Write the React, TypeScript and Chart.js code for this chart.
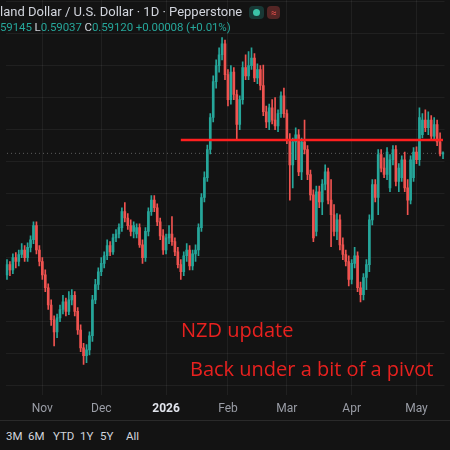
import React, { useEffect, useRef } from 'react';
import { Chart, registerables } from 'chart.js';

Chart.register(...registerables);

// ---- categories ----
const FIRST_DAY = '2025-10-16';
const LAST_DAY = '2026-05-14';
const MARKET_HOLIDAYS = ['2025-12-25', '2026-01-01'];
const MONTH_NAMES = ['Jan', 'Feb', 'Mar', 'Apr', 'May', 'Jun', 'Jul', 'Aug', 'Sep', 'Oct', 'Nov', 'Dec'];
const YEAR_TICK = '2026';

// ---- series (NZD/USD daily OHLC) ----
const OPEN = [
  0.5722, 0.5738, 0.5730, 0.5749, 0.5743, 0.5754, 0.5761, 0.5749, 0.5765, 0.5777,
  0.5799, 0.5761, 0.5743, 0.5722, 0.5702, 0.5675, 0.5652, 0.5633, 0.5655, 0.5668,
  0.5680, 0.5665, 0.5683, 0.5690, 0.5665, 0.5636, 0.5608, 0.5596, 0.5605, 0.5627,
  0.5683, 0.5707, 0.5727, 0.5740, 0.5752, 0.5768, 0.5758, 0.5780, 0.5786, 0.5796,
  0.5821, 0.5811, 0.5799, 0.5790, 0.5786, 0.5796, 0.5769, 0.5749, 0.5790, 0.5821,
  0.5839, 0.5827, 0.5805, 0.5783, 0.5761, 0.5780, 0.5786, 0.5774, 0.5758, 0.5738,
  0.5727, 0.5752, 0.5761, 0.5736, 0.5755, 0.5761, 0.5796, 0.5843, 0.5874, 0.5918,
  0.5968, 0.6024, 0.6049, 0.6066, 0.6083, 0.6035, 0.5996, 0.6039, 0.6004, 0.5957,
  0.5996, 0.6046, 0.6033, 0.6049, 0.6061, 0.6030, 0.6043, 0.6018, 0.5977, 0.5961,
  0.5983, 0.5964, 0.5955, 0.5974, 0.6002, 0.5974, 0.5933, 0.5894, 0.5930, 0.5941,
  0.5883, 0.5930, 0.5918, 0.5879, 0.5847, 0.5790, 0.5852, 0.5836, 0.5864, 0.5883,
  0.5839, 0.5816, 0.5790, 0.5808, 0.5769, 0.5754, 0.5743, 0.5715, 0.5740, 0.5752,
  0.5702, 0.5691, 0.5718, 0.5738, 0.5808, 0.5863, 0.5843, 0.5910, 0.5889, 0.5879,
  0.5858, 0.5902, 0.5918, 0.5868, 0.5874, 0.5902, 0.5858, 0.5839, 0.5874, 0.5914,
  0.5902, 0.5941, 0.5964, 0.5952, 0.5964, 0.5939, 0.5957, 0.5930, 0.59112,
];
const HIGH = [
  0.5746, 0.5743, 0.5755, 0.5757, 0.5761, 0.5771, 0.5768, 0.5772, 0.5783, 0.5805,
  0.5805, 0.5768, 0.5749, 0.5730, 0.5708, 0.5683, 0.5658, 0.5661, 0.5675, 0.5690,
  0.5686, 0.5696, 0.5699, 0.5696, 0.5671, 0.5644, 0.5615, 0.5613, 0.5633, 0.5690,
  0.5715, 0.5733, 0.5749, 0.5758, 0.5777, 0.5774, 0.5786, 0.5793, 0.5802, 0.5827,
  0.5835, 0.5818, 0.5808, 0.5805, 0.5802, 0.5802, 0.5777, 0.5796, 0.5827, 0.5846,
  0.5846, 0.5833, 0.5811, 0.5793, 0.5786, 0.5799, 0.5813, 0.5780, 0.5765, 0.5746,
  0.5758, 0.5771, 0.5768, 0.5761, 0.5769, 0.5802, 0.5849, 0.5883, 0.5925, 0.5974,
  0.6033, 0.6058, 0.6077, 0.6093, 0.6089, 0.6043, 0.6049, 0.6046, 0.6011, 0.6002,
  0.6055, 0.6066, 0.6071, 0.6077, 0.6068, 0.6052, 0.6049, 0.6050, 0.5986, 0.5989,
  0.5996, 0.5999, 0.5980, 0.6008, 0.6014, 0.5980, 0.5943, 0.5936, 0.5952, 0.5949,
  0.5936, 0.5964, 0.5924, 0.5886, 0.5855, 0.5861, 0.5861, 0.5871, 0.5894, 0.5889,
  0.5871, 0.5832, 0.5818, 0.5816, 0.5780, 0.5761, 0.5752, 0.5746, 0.5765, 0.5758,
  0.5711, 0.5724, 0.5746, 0.5816, 0.5871, 0.5871, 0.5918, 0.5918, 0.5905, 0.5921,
  0.5910, 0.5924, 0.5924, 0.5896, 0.5908, 0.5914, 0.5871, 0.5908, 0.5921, 0.5922,
  0.5983, 0.5974, 0.5980, 0.5977, 0.5971, 0.5968, 0.5964, 0.5944, 0.59145,
];
const LOW = [
  0.5715, 0.5721, 0.5724, 0.5733, 0.5736, 0.5749, 0.5743, 0.5743, 0.5758, 0.5771,
  0.5755, 0.5736, 0.5715, 0.5696, 0.5668, 0.5643, 0.5611, 0.5624, 0.5649, 0.5661,
  0.5658, 0.5660, 0.5675, 0.5658, 0.5629, 0.5602, 0.5582, 0.5585, 0.5597, 0.5618,
  0.5677, 0.5699, 0.5721, 0.5733, 0.5746, 0.5752, 0.5754, 0.5774, 0.5780, 0.5790,
  0.5805, 0.5793, 0.5783, 0.5780, 0.5780, 0.5765, 0.5740, 0.5743, 0.5783, 0.5815,
  0.5821, 0.5799, 0.5777, 0.5754, 0.5755, 0.5771, 0.5768, 0.5752, 0.5733, 0.5715,
  0.5721, 0.5743, 0.5730, 0.5730, 0.5743, 0.5752, 0.5790, 0.5836, 0.5868, 0.5911,
  0.5961, 0.6014, 0.6039, 0.6058, 0.6027, 0.5986, 0.5989, 0.5996, 0.5933, 0.5949,
  0.5989, 0.6027, 0.6027, 0.6043, 0.6024, 0.6021, 0.6011, 0.5971, 0.5952, 0.5949,
  0.5958, 0.5949, 0.5946, 0.5968, 0.5968, 0.5927, 0.5839, 0.5858, 0.5902, 0.5877,
  0.5871, 0.5911, 0.5871, 0.5839, 0.5774, 0.5783, 0.5827, 0.5816, 0.5855, 0.5833,
  0.5766, 0.5783, 0.5777, 0.5761, 0.5746, 0.5736, 0.5705, 0.5708, 0.5733, 0.5696,
  0.5680, 0.5683, 0.5699, 0.5727, 0.5800, 0.5836, 0.5816, 0.5883, 0.5874, 0.5871,
  0.5852, 0.5894, 0.5861, 0.5852, 0.5868, 0.5852, 0.5816, 0.5833, 0.5868, 0.5896,
  0.5893, 0.5936, 0.5946, 0.5941, 0.5933, 0.5933, 0.5924, 0.5908, 0.59037,
];
const CLOSE = [
  0.5738, 0.5730, 0.5749, 0.5743, 0.5754, 0.5761, 0.5749, 0.5765, 0.5777, 0.5799,
  0.5761, 0.5743, 0.5722, 0.5702, 0.5675, 0.5652, 0.5633, 0.5655, 0.5668, 0.5680,
  0.5665, 0.5683, 0.5690, 0.5665, 0.5636, 0.5608, 0.5596, 0.5605, 0.5627, 0.5683,
  0.5707, 0.5727, 0.5740, 0.5752, 0.5768, 0.5758, 0.5780, 0.5786, 0.5796, 0.5821,
  0.5811, 0.5799, 0.5790, 0.5799, 0.5796, 0.5769, 0.5749, 0.5790, 0.5821, 0.5839,
  0.5827, 0.5805, 0.5783, 0.5761, 0.5780, 0.5786, 0.5774, 0.5758, 0.5738, 0.5727,
  0.5752, 0.5761, 0.5736, 0.5755, 0.5761, 0.5796, 0.5843, 0.5874, 0.5918, 0.5968,
  0.6024, 0.6049, 0.6066, 0.6083, 0.6035, 0.5996, 0.6039, 0.6004, 0.5957, 0.5996,
  0.6046, 0.6033, 0.6049, 0.6061, 0.6030, 0.6043, 0.6018, 0.5977, 0.5961, 0.5983,
  0.5964, 0.5955, 0.5974, 0.6002, 0.5974, 0.5933, 0.5894, 0.5930, 0.5941, 0.5883,
  0.5930, 0.5918, 0.5879, 0.5847, 0.5780, 0.5852, 0.5836, 0.5864, 0.5883, 0.5839,
  0.5816, 0.5790, 0.5808, 0.5769, 0.5754, 0.5743, 0.5715, 0.5740, 0.5752, 0.5702,
  0.5691, 0.5718, 0.5738, 0.5808, 0.5863, 0.5843, 0.5910, 0.5889, 0.5879, 0.5914,
  0.5902, 0.5918, 0.5868, 0.5889, 0.5902, 0.5858, 0.5839, 0.5902, 0.5914, 0.5902,
  0.5968, 0.5964, 0.5952, 0.5964, 0.5939, 0.5957, 0.5930, 0.59112, 0.59120,
];

const PIVOT_LEVEL = 0.5933;
const PIVOT_START_DATE = '2026-01-09';
const LAST_PRICE = 0.5912;
const GRID_LEVELS = [0.555, 0.56, 0.565, 0.57, 0.575, 0.58, 0.585, 0.59, 0.595, 0.6, 0.605, 0.61, 0.615];
const Y_MIN = 0.55344;
const Y_MAX = 0.61516;
const RANGE_BUTTONS = ['3M', '6M', 'YTD', '1Y', '5Y', 'All'];

const UP = '#26a69a';
const DOWN = '#ef5350';
const BG = '#131313';

function tradingDays(): string[] {
  const out: string[] = [];
  const d = new Date(FIRST_DAY + 'T00:00:00Z');
  const end = new Date(LAST_DAY + 'T00:00:00Z');
  while (d <= end) {
    const iso = d.toISOString().slice(0, 10);
    const wd = d.getUTCDay();
    if (wd !== 0 && wd !== 6 && !MARKET_HOLIDAYS.includes(iso)) out.push(iso);
    d.setUTCDate(d.getUTCDate() + 1);
  }
  return out;
}

export default function App() {
  const ref = useRef<HTMLCanvasElement>(null);

  useEffect(() => {
    const labels = tradingDays();
    const monthStart = labels.map((d, i) => i > 0 && d.slice(5, 7) !== labels[i - 1].slice(5, 7));
    const tickName = (i: number) => {
      if (!monthStart[i]) return '';
      const m = parseInt(labels[i].slice(5, 7), 10);
      return m === 1 ? YEAR_TICK : MONTH_NAMES[m - 1];
    };
    const colors = CLOSE.map((c, i) => (c >= OPEN[i] ? UP : DOWN));
    const pivotIdx = labels.indexOf(PIVOT_START_DATE);

    const chart = new Chart(ref.current as HTMLCanvasElement, {
      type: 'bar',
      data: {
        labels,
        datasets: [
          {
            type: 'line',
            data: labels.map((_, i) => (i >= pivotIdx ? PIVOT_LEVEL : null)),
            borderColor: '#ff1f1f',
            borderWidth: 2.5,
            pointRadius: 0,
            order: 0,
          } as any,
          {
            type: 'bar',
            data: LOW.map((l, i) => [l, HIGH[i]]),
            backgroundColor: colors,
            barThickness: 1,
            grouped: false,
            order: 2,
          },
          {
            type: 'bar',
            data: OPEN.map((o, i) => [o, CLOSE[i]]),
            backgroundColor: colors,
            barThickness: 2,
            grouped: false,
            minBarLength: 1,
            order: 1,
          },
          {
            type: 'line',
            data: labels.map(() => LAST_PRICE),
            borderColor: 'rgba(150,150,150,0.6)',
            borderWidth: 1,
            borderDash: [1, 3],
            pointRadius: 0,
            order: 3,
          } as any,
        ],
      },
      options: {
        animation: false,
        responsive: false,
        events: [],
        layout: { padding: 0 },
        plugins: { legend: { display: false }, tooltip: { enabled: false } },
        scales: {
          x: {
            type: 'category',
            offset: true,
            border: { display: false },
            grid: {
              offset: false,
              drawTicks: false,
              color: (ctx: any) => (monthStart[ctx.index] ? 'rgba(255,255,255,0.06)' : 'rgba(0,0,0,0)'),
            },
            ticks: {
              autoSkip: false,
              maxRotation: 0,
              padding: 7,
              callback: (_v: any, i: number) => tickName(i),
              color: (ctx: any) => (ctx.tick && ctx.tick.label === YEAR_TICK ? '#e0e3eb' : '#9a9da6'),
              font: (ctx: any) => ({
                family: 'Roboto',
                size: 12,
                weight: ctx.tick && ctx.tick.label === YEAR_TICK ? 'bold' : 'normal',
              }),
            },
            afterFit: (s: any) => {
              s.height = 25;
            },
          },
          y: {
            min: Y_MIN,
            max: Y_MAX,
            border: { display: false },
            grid: { color: 'rgba(255,255,255,0.06)', drawTicks: false },
            ticks: { display: false },
            afterBuildTicks: (s: any) => {
              s.ticks = GRID_LEVELS.map((v) => ({ value: v }));
            },
            afterFit: (s: any) => {
              s.width = 0;
            },
          },
        },
      },
    });
    return () => chart.destroy();
  }, []);

  const green = '#26a69a';
  const light = '#d1d4dc';
  const btnLeft = [6, 28, 53, 80, 100, 126];
  return (
    <div style={{ position: 'fixed', left: 0, top: 0, width: 450, height: 450, background: BG, overflow: 'hidden' }}>
      <canvas ref={ref} width={450} height={420} style={{ position: 'absolute', left: 0, top: 0 }} />
      <div style={{ position: 'absolute', left: 0, top: 4, font: '13px Roboto', color: light, whiteSpace: 'nowrap' }}>
        land Dollar / U.S. Dollar · 1D · Pepperstone
        <span style={{ display: 'inline-block', marginLeft: 7, width: 15, height: 13, borderRadius: 4, background: 'rgba(38,166,154,0.25)', verticalAlign: 'middle', position: 'relative' }}>
          <span style={{ position: 'absolute', left: 4, top: 3, width: 7, height: 7, borderRadius: 4, background: '#3cc3a8' }} />
        </span>
        <span style={{ display: 'inline-block', marginLeft: 3, width: 13, height: 13, borderRadius: 4, background: 'rgba(239,83,80,0.3)', color: '#ef5350', fontSize: 10, lineHeight: '13px', textAlign: 'center', verticalAlign: 'middle' }}>≈</span>
      </div>
      <div style={{ position: 'absolute', left: 0, top: 20, font: '11.5px Roboto', letterSpacing: '-0.1px', color: green, whiteSpace: 'nowrap' }}>
        59145 <span style={{ color: light }}>L</span>0.59037 <span style={{ color: light }}>C</span>0.59120 +0.00008 (+0.01%)
      </div>
      <div style={{ position: 'absolute', left: 181, top: 316, font: '20px "Open Sans"', color: '#e8211f', whiteSpace: 'nowrap' }}>
        NZD update
      </div>
      <div style={{ position: 'absolute', left: 190, top: 355, font: '20px "Open Sans"', color: '#e8211f', whiteSpace: 'nowrap' }}>
        Back under a bit of a pivot
      </div>
      <div style={{ position: 'absolute', left: 0, top: 420, width: 450, height: 1, background: '#2a2a2a' }} />
      {RANGE_BUTTONS.map((b, i) => (
        <div key={b} style={{ position: 'absolute', left: btnLeft[i], top: 429, font: '11.5px Roboto', color: light, whiteSpace: 'nowrap' }}>
          {b}
        </div>
      ))}
    </div>
  );
}
